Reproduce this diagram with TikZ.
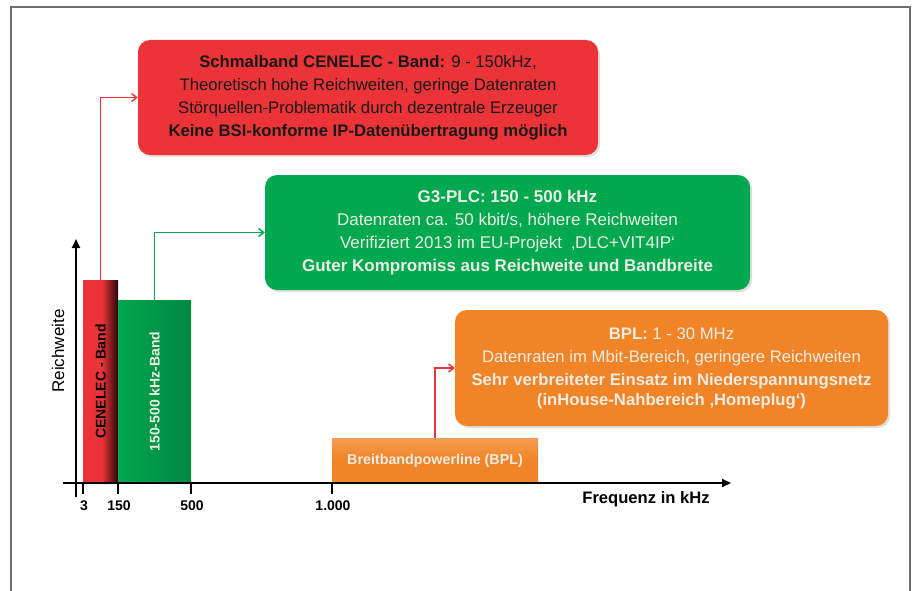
\documentclass[tikz,border=0pt]{standalone}
\usepackage{fontspec}
\setmainfont{Liberation Sans}
\usetikzlibrary{arrows.meta,shadows,positioning}

\definecolor{cenred}{RGB}{236,52,56}
\definecolor{cendark}{RGB}{40,6,8}
\definecolor{g3green}{RGB}{0,168,80}
\definecolor{bplorange}{RGB}{241,132,38}
\definecolor{lighttext}{RGB}{236,236,228}
\definecolor{framegray}{RGB}{110,110,110}

\pgfdeclarehorizontalshading{cenbarshade}{100bp}{color(0bp)=(cenred); color(52bp)=(cenred); color(75bp)=(cendark); color(100bp)=(cendark)}

\begin{document}
\begin{tikzpicture}[x=1pt,y=1pt,yscale=-1,xscale=1,
    infobox/.style={rounded corners=12pt, align=center, inner sep=0pt,
      font=\fontsize{16.7}{23}\selectfont,
      drop shadow={opacity=0.25, shadow xshift=2pt, shadow yshift=-2pt}},
    bandbar/.style={inner sep=0pt, font=\bfseries\fontsize{14}{16}\selectfont},
    axis/.style={line width=1.8, -{Triangle[length=9pt,width=8pt]}},
    link/.style={line width=1.5, -{Straight Barb[length=5pt,width=8pt]}},
    ticklab/.style={font=\bfseries\fontsize{14}{16}\selectfont, anchor=north}]
\useasboundingbox (0,0) rectangle (912,591);
%Frame
\draw [color=framegray, line width=1.6] (11,591) -- (11,7) -- (910,7) -- (910,591);

%Axes
\coordinate (xstart) at (63,483);
\coordinate (xend) at (731,483);
\coordinate (ystart) at (76,497);
\coordinate (yend) at (76,239);

%Bars
\node [bandbar, minimum width=35, minimum height=203, shading=cenbarshade] (cenbar) at (100.5,381.5) {};
\node [bandbar, rotate=90, text=black] at (cenbar.center) {CENELEC - Band};
\node [bandbar, minimum width=73, minimum height=183, left color=g3green, right color=g3green!80!black] (g3bar) at (154.5,391.5) {};
\node [bandbar, rotate=90, text=lighttext] at (g3bar.center) {150-500 kHz-Band};
\node [bandbar, font=\bfseries\fontsize{14.3}{16}\selectfont, minimum width=206, minimum height=45, top color=bplorange!80!white, bottom color=bplorange, middle color=bplorange, text=lighttext] (bplbar) at (435,460.5) {Breitbandpowerline (BPL)};

\draw [axis] (xstart) -- (xend);
\draw [axis] (ystart) -- (yend);

%Ticks
\foreach \x/\lab in {83/3,118/150,191/500,332/1.000}{
  \draw [line width=1.2] (\x,483) -- (\x,494);
  \node [ticklab] (tick\x) at (\x+1,497.5) {\lab};
}

% Text Node
\node [font=\bfseries\fontsize{16.6}{18}\selectfont] (xlab) at (646,499) {Frequenz in kHz};
% Text Node
\node [font=\fontsize{17}{19}\selectfont, rotate=90] (ylab) at (58,351) {Reichweite};

%Info boxes
\node [infobox, fill=cenred, text=black!90, minimum width=460, minimum height=115] (cenelec) at (368,97.5) {\textbf{Schmalband CENELEC - Band:} 9 - 150kHz,\\ Theoretisch hohe Reichweiten, geringe Datenraten\\ Störquellen-Problematik durch dezentrale Erzeuger\\ \textbf{Keine BSI-konforme IP-Datenübertragung möglich}};
\node [infobox, font=\fontsize{17}{23}\selectfont, fill=g3green, text=lighttext, minimum width=485, minimum height=115] (g3plc) at (507.5,232.5) {\textbf{G3-PLC: 150 - 500 kHz}\\ Datenraten ca. 50 kbit/s, höhere Reichweiten\\ Verifiziert 2013 im EU-Projekt \ ‚DLC+VIT4IP‘\\ \textbf{Guter Kompromiss aus Reichweite und Bandbreite}};
\node [infobox, fill=bplorange, text=lighttext, minimum width=433, minimum height=116] (bpl) at (671.5,368) {\textbf{BPL:} 1 - 30 MHz\\ Datenraten im Mbit-Bereich, geringere Reichweiten\\ \textbf{Sehr verbreiteter Einsatz im Niederspannungsnetz}\\[-3pt] \textbf{(inHouse-Nahbereich ‚Homeplug‘)}};

%Connectors
\draw [link, color=cenred] (cenbar.north) |- (cenelec.west);
\draw [link, color=g3green] (g3bar.north) |- (g3plc.west);
\draw [link, color=cenred] (bplbar.north) |- (bpl.west);
\end{tikzpicture}
\end{document}
